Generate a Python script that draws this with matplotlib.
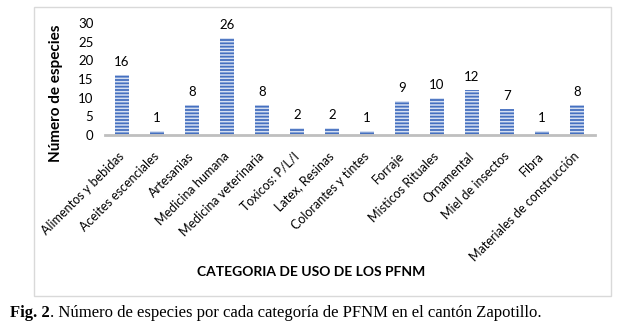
import matplotlib.pyplot as plt
from matplotlib.patches import Rectangle

categorias = ['Alimentos y bebidas', 'Aceites escenciales', 'Artesanias', 'Medicina humana',
              'Medicina veterinaria', 'Toxicos: P/L/I', 'Latex, Resinas', 'Colorantes y tintes',
              'Forraje', 'Misticos Rituales', 'Ornamental', 'Miel de insectos', 'Fibra',
              'Materiales de construcción']
especies = [16, 1, 8, 26, 8, 2, 2, 1, 9, 10, 12, 7, 1, 8]
yticks = [0, 5, 10, 15, 20, 25, 30]

plt.rcParams['font.family'] = ['Lato', 'DejaVu Sans']
plt.rcParams['hatch.linewidth'] = 1.1

fig = plt.figure(figsize=(6.19, 3.28), dpi=100)
W, H = 619, 328

# marco del grafico
fig.patches.append(Rectangle((34 / W, 1 - 296 / H), (611 - 34) / W, (296 - 7) / H,
                             transform=fig.transFigure, fill=False, edgecolor='#d9d9d9', lw=1))

ax = fig.add_axes([104.5 / W, 1 - 135 / H, 490 / W, 112 / H])
x = list(range(len(categorias)))
bars = ax.bar(x, especies, width=0.4, color='#4570c0', edgecolor='#d6e0f2', hatch='-----', linewidth=0)
for b, v in zip(bars, especies):
    ax.annotate(str(v), (b.get_x() + b.get_width() / 2, v), xytext=(0, 5), textcoords='offset points',
                ha='center', va='bottom', fontsize=9.5)

ax.set_ylim(0, 30)
ax.set_xlim(-0.5, len(categorias) - 0.5)
ax.set_yticks(yticks)
ax.set_xticks(x)
ax.set_xticklabels(categorias, rotation=45, ha='right', va='center', rotation_mode='anchor', fontsize=9)
ax.tick_params(axis='y', length=0, labelsize=9.5, pad=8)
ax.tick_params(axis='x', length=0, pad=14)
for s in ['top', 'right', 'left']:
    ax.spines[s].set_visible(False)
ax.spines['bottom'].set_color('#bfbfbf')
ax.spines['bottom'].set_linewidth(2)
ax.set_ylabel('Número de especies', fontsize=11, fontweight='bold')
ax.yaxis.set_label_coords(-0.085, 0.37)

fig.text(311 / W, 1 - 272 / H, 'CATEGORIA DE USO DE LOS PFNM', ha='center', va='center',
         fontsize=10, fontweight='bold')

t1 = fig.text(10 / W, 1 - 317 / H, 'Fig. 2', ha='left', va='baseline', fontsize=12,
              family='Liberation Serif', fontweight='bold')
fig.add_artist(plt.Annotation('. Número de especies por cada categoría de PFNM en el cantón Zapotillo.',
                              xy=(1, 0), xycoords=t1, va='bottom', ha='left', fontsize=12,
                              family='Liberation Serif'))

fig.savefig('out.png', dpi=100)
